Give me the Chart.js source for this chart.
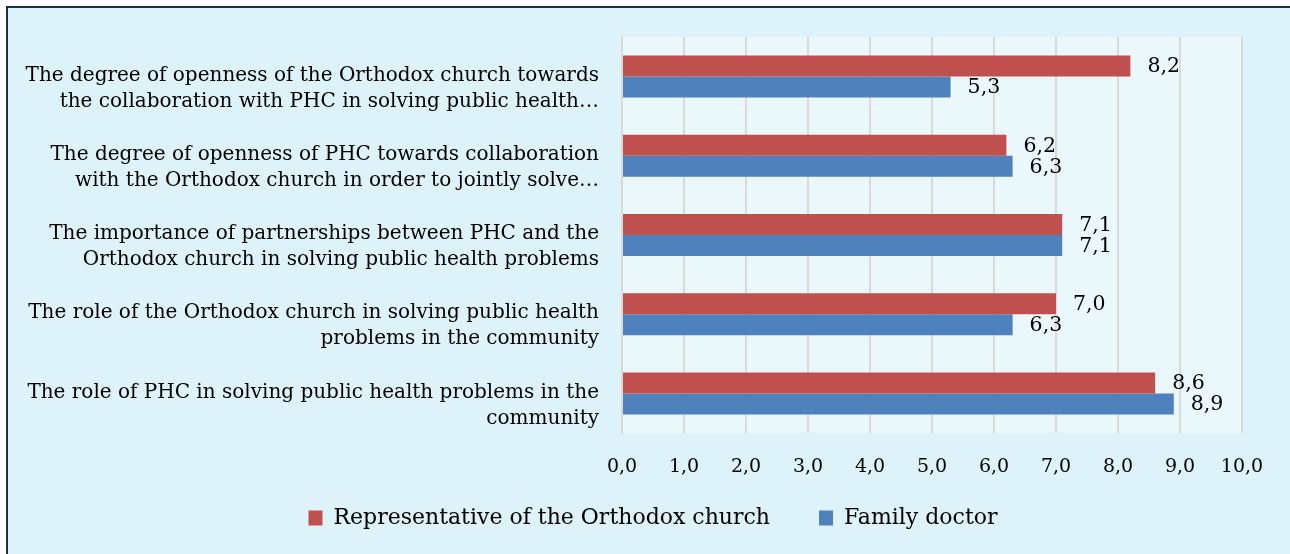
<!DOCTYPE html>
<html>
<head>
<meta charset="utf-8">
<script src="https://cdn.jsdelivr.net/npm/chart.js@4"></script>
<style>
  html, body { margin: 0; padding: 0; background: #fff; }
  body { width: 1290px; height: 554px; overflow: hidden; position: relative; }
  .frame {
    position: absolute; left: 6px; top: 6px; width: 1300px; height: 560px;
    border: 2px solid #1f2d4d; background: #ddf3f9;
  }
  #chart { position: absolute; left: 0; top: 0; }
</style>
</head>
<body>
<div class="frame"></div>
<canvas id="chart" width="1290" height="554"></canvas>
<script>
// categories, top to bottom
const categories = [
  ['The degree of openness of the Orthodox church towards', 'the collaboration with PHC in solving public health\u2026'],
  ['The degree of openness of PHC towards collaboration', 'with the Orthodox church in order to jointly solve\u2026'],
  ['The importance of partnerships between PHC and the', 'Orthodox church in solving public health problems'],
  ['The role of the Orthodox church in solving public health', 'problems in the community'],
  ['The role of PHC in solving public health problems in the', 'community']
];
const churchRep = [8.2, 6.2, 7.1, 7.0, 8.6];
const familyDoctor = [5.3, 6.3, 7.1, 6.3, 8.9];
const xTicks = [0, 1, 2, 3, 4, 5, 6, 7, 8, 9, 10];

const serif = 'DejaVu Serif, Liberation Serif, serif';
const fmt = v => Number(v).toFixed(1).replace('.', ',');

// light fill behind the plot area
const plotBg = {
  id: 'plotBg',
  beforeDraw(chart) {
    const a = chart.chartArea, ctx = chart.ctx;
    ctx.save();
    ctx.fillStyle = '#eaf8fc';
    ctx.fillRect(a.left, a.top, a.right - a.left, a.bottom - a.top);
    ctx.restore();
  }
};

// legend sits a bit right of the canvas centre in the original
const legendShift = {
  id: 'legendShift',
  afterLayout(chart) {
    chart.legend.left += 32;
    chart.legend.right += 32;
  }
};

// value labels at the end of each bar
const barLabels = {
  id: 'barLabels',
  afterDatasetsDraw(chart) {
    const ctx = chart.ctx;
    ctx.save();
    ctx.font = '20.5px ' + serif;
    ctx.fillStyle = '#000';
    ctx.textBaseline = 'middle';
    ctx.textAlign = 'left';
    chart.data.datasets.forEach((ds, i) => {
      chart.getDatasetMeta(i).data.forEach((bar, j) => {
        ctx.fillText(fmt(ds.data[j]), bar.x + 17, bar.y + 1);
      });
    });
    ctx.restore();
  }
};

new Chart(document.getElementById('chart'), {
  type: 'bar',
  data: {
    labels: categories,
    datasets: [
      { label: 'Representative of the Orthodox church', data: churchRep, backgroundColor: '#c0504d' },
      { label: 'Family doctor', data: familyDoctor, backgroundColor: '#4f81bd' }
    ]
  },
  options: {
    indexAxis: 'y',
    responsive: false,
    animation: false,
    devicePixelRatio: 1,
    layout: { padding: { top: 37, right: 48, bottom: 15, left: 0 } },
    datasets: { bar: { barPercentage: 1, categoryPercentage: 0.53 } },
    scales: {
      x: {
        min: 0, max: 10,
        afterBuildTicks: s => { s.ticks = xTicks.map(v => ({ value: v })); },
        grid: { color: '#d9d9d9', lineWidth: 2, drawTicks: false },
        border: { display: false },
        ticks: {
          callback: v => fmt(v),
          color: '#000',
          padding: 23,
          font: { family: serif, size: 19 }
        },
        afterFit: s => { s.height = 47; }
      },
      y: {
        grid: { display: false, drawTicks: false },
        border: { display: true, color: '#d9d9d9', width: 2 },
        ticks: {
          color: '#000',
          padding: 23,
          labelOffset: 12,
          font: { family: serif, size: 20, lineHeight: 1.3 }
        },
        afterFit: s => { s.width = 622; s.paddingTop = 0; s.paddingBottom = 0; }
      }
    },
    plugins: {
      legend: {
        position: 'bottom',
        labels: {
          color: '#000',
          boxWidth: 14,
          boxHeight: 15,
          padding: 27,
          font: { family: serif, size: 22 },
          // wider gap between the two entries, as in the original
          generateLabels: chart => {
            const items = Chart.defaults.plugins.legend.labels.generateLabels(chart);
            items.forEach((it, i) => { if (i < items.length - 1) it.text += '\u2003'; });
            return items;
          }
        }
      },
      tooltip: { enabled: false }
    }
  },
  plugins: [plotBg, legendShift, barLabels]
});
</script>
</body>
</html>
